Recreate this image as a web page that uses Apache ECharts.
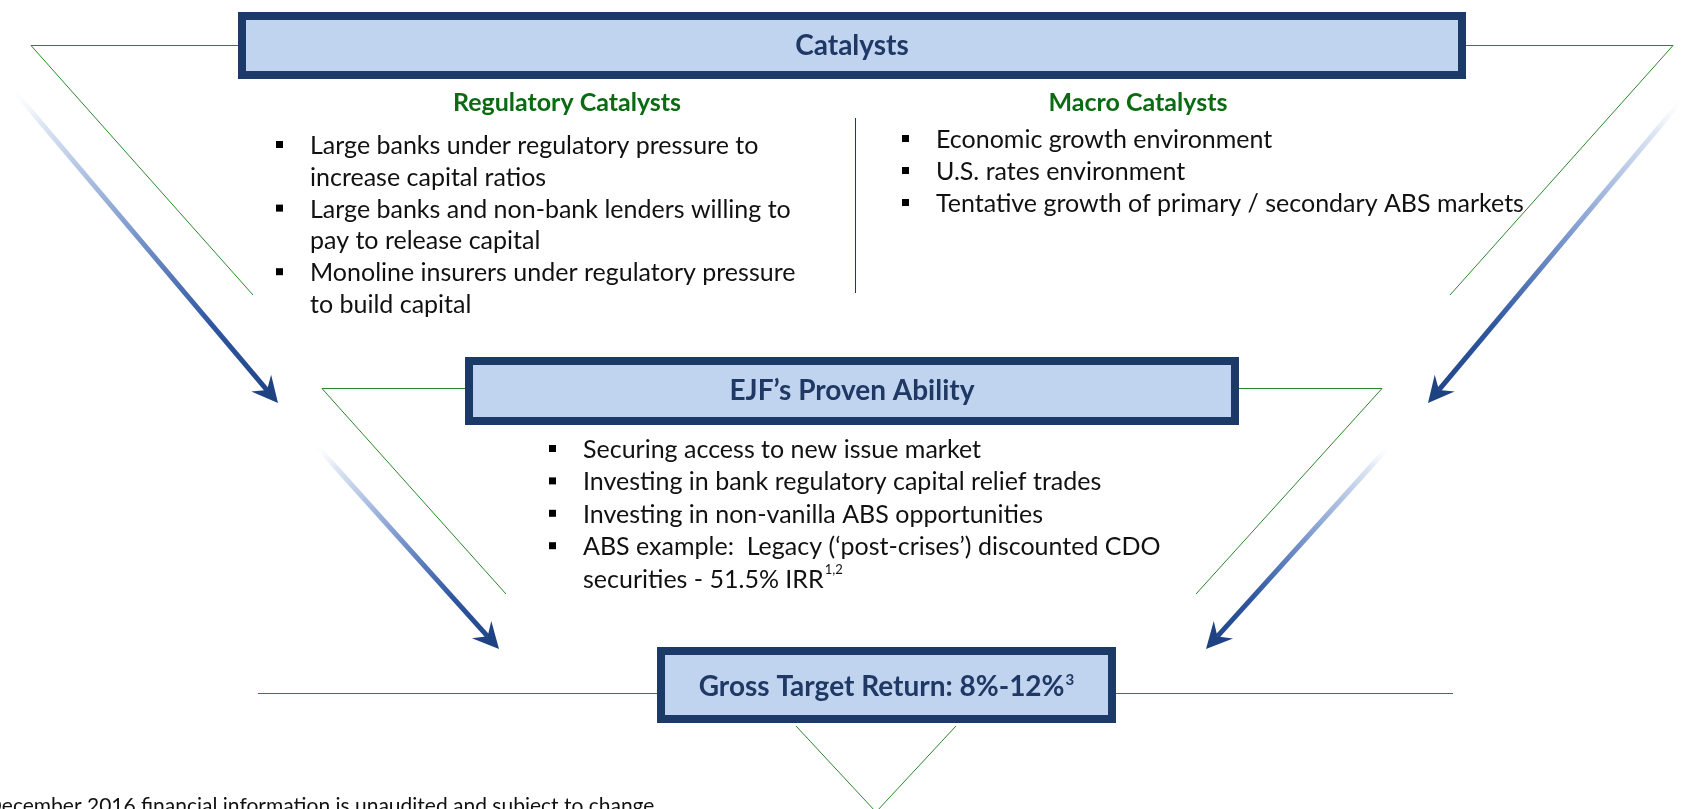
<!DOCTYPE html>
<html>
<head>
<meta charset="utf-8">
<title>Catalysts</title>
<script src="https://cdn.jsdelivr.net/npm/echarts@6/dist/echarts.min.js"></script>
<style>
  html, body { margin: 0; padding: 0; background: #fff; }
  #main { width: 1684px; height: 809px; }
</style>
</head>
<body>
<div id="main"></div>
<script>
// texts of the diagram
var boxTitles = ['Catalysts', 'EJF\u2019s Proven Ability', 'Gross Target Return: 8%-12%{sup|3}'];
var headings = ['Regulatory Catalysts', 'Macro Catalysts'];
var regulatoryItems = [
  'Large banks under regulatory pressure to\nincrease capital ratios',
  'Large banks and non-bank lenders willing to\npay to release capital',
  'Monoline insurers under regulatory pressure\nto build capital'
];
var macroItems = [
  'Economic growth environment',
  'U.S. rates environment',
  'Tentative growth of primary / secondary ABS markets'
];
var abilityItems = [
  'Securing access to new issue market',
  'Investing in bank regulatory capital relief trades',
  'Investing in non-vanilla ABS opportunities',
  'ABS example:  Legacy (\u2018post-crises\u2019) discounted CDO\nsecurities - 51.5% IRR{sup|1,2}'
];
var footnote = 'December 2016 financial information is unaudited and subject to change.';

var NAVY = '#1b3a67';
var FILL = '#c0d4ef';
var TITLE = '#1f3864';
var GREEN = '#2b862b';
var GREEN_TEXT = '#0b6b12';
var ARROW = '#1f4283';
var FONT = 'Lato';

var myChart = echarts.init(document.getElementById('main'));
var els = [];

function box(x0, y0, x1, y1, title, cy) {
  var b = 4;
  els.push({
    type: 'rect', z: 10,
    shape: { x: x0 + b, y: y0 + b, width: x1 - x0 - 2 * b, height: y1 - y0 - 2 * b },
    style: { fill: FILL, stroke: NAVY, lineWidth: 2 * b }
  });
  els.push({
    type: 'text', z: 11, x: (x0 + x1) / 2, y: cy,
    style: {
      text: title, fill: TITLE, font: 'bold 28px ' + FONT,
      align: 'center', verticalAlign: 'middle',
      rich: { sup: { fontSize: 15, fontWeight: 'bold', fontFamily: FONT, fill: TITLE, verticalAlign: 'top', lineHeight: 24, padding: [0, 0, 0, 1] } }
    }
  });
}

function greenLine(pts) {
  els.push({ type: 'polyline', z: 5, shape: { points: pts }, style: { stroke: GREEN, lineWidth: 1, fill: null } });
}

function arrow(x1, y1, x2, y2) {
  var dx = x2 - x1, dy = y2 - y1, len = Math.sqrt(dx * dx + dy * dy);
  var ux = dx / len, uy = dy / len, nx = -uy, ny = ux;
  var L = 26, W = 13, notch = 9;
  els.push({
    type: 'line', z: 6,
    shape: { x1: x1, y1: y1, x2: x2 - (L - notch) * ux, y2: y2 - (L - notch) * uy },
    style: {
      lineWidth: 5,
      stroke: new echarts.graphic.LinearGradient(x1, y1, x2, y2, [
        { offset: 0, color: 'rgba(255,255,255,0)' },
        { offset: 0.12, color: '#dde6f3' },
        { offset: 0.45, color: '#7f9bcf' },
        { offset: 0.75, color: '#2f57a0' },
        { offset: 1, color: ARROW }
      ], true)
    }
  });
  els.push({
    type: 'polygon', z: 7,
    shape: { points: [
      [x2, y2],
      [x2 - L * ux + W * nx, y2 - L * uy + W * ny],
      [x2 - (L - notch) * ux, y2 - (L - notch) * uy],
      [x2 - L * ux - W * nx, y2 - L * uy - W * ny]
    ] },
    style: { fill: ARROW }
  });
}

function bullets(items, bx, tx, y0, lh) {
  var y = y0;
  items.forEach(function (t) {
    els.push({ type: 'rect', z: 8, shape: { x: bx, y: y - 5, width: 7, height: 7 }, style: { fill: '#000' } });
    els.push({
      type: 'text', z: 8, x: tx, y: y - lh / 2,
      style: {
        text: t, fill: '#111', font: '25px ' + FONT, lineHeight: lh,
        align: 'left', verticalAlign: 'top',
        rich: { sup: { fontSize: 13, fontFamily: FONT, fill: '#111', verticalAlign: 'top', lineHeight: 24, padding: [0, 0, 0, 1] } }
      }
    });
    y += lh * t.split('\n').length;
  });
}

// green outline triangles
greenLine([[253, 295], [31, 45.5], [238, 45.5]]);
greenLine([[1466, 45.5], [1673, 45.5], [1450, 295]]);
greenLine([[506, 594], [322, 388.5], [465, 388.5]]);
greenLine([[1239, 388.5], [1382, 388.5], [1196, 594]]);
greenLine([[258, 693.5], [657, 693.5]]);
greenLine([[1116, 693.5], [1453, 693.5]]);
greenLine([[796, 726], [876, 812], [956, 726]]);

// flow arrows
arrow(10, 86, 278, 403);
arrow(1686, 95, 1428, 403);
arrow(314, 443, 499, 649);
arrow(1392, 443, 1206, 649);

// boxes
box(238, 12, 1466, 79, boxTitles[0], 46);
box(465, 357, 1239, 425, boxTitles[1], 391);
box(657, 647, 1116, 723, boxTitles[2], 687);

// column headings and divider
els.push({ type: 'text', x: 567, y: 103, style: { text: headings[0], fill: GREEN_TEXT, font: 'bold 25px ' + FONT, align: 'center', verticalAlign: 'middle' } });
els.push({ type: 'text', x: 1138, y: 103, style: { text: headings[1], fill: GREEN_TEXT, font: 'bold 25px ' + FONT, align: 'center', verticalAlign: 'middle' } });
els.push({ type: 'line', shape: { x1: 855.5, y1: 118, x2: 855.5, y2: 293 }, style: { stroke: TITLE, lineWidth: 1 } });

bullets(regulatoryItems, 276, 310, 146, 31.8);
bullets(macroItems, 902, 936, 140, 32);
bullets(abilityItems, 549, 583, 450, 32.4);

els.push({ type: 'text', x: -14, y: 796, style: { text: footnote, fill: '#111', font: '21px ' + FONT, align: 'left', verticalAlign: 'top' } });

myChart.setOption({
  backgroundColor: '#fff',
  animation: false,
  graphic: { elements: els }
});
</script>
</body>
</html>
